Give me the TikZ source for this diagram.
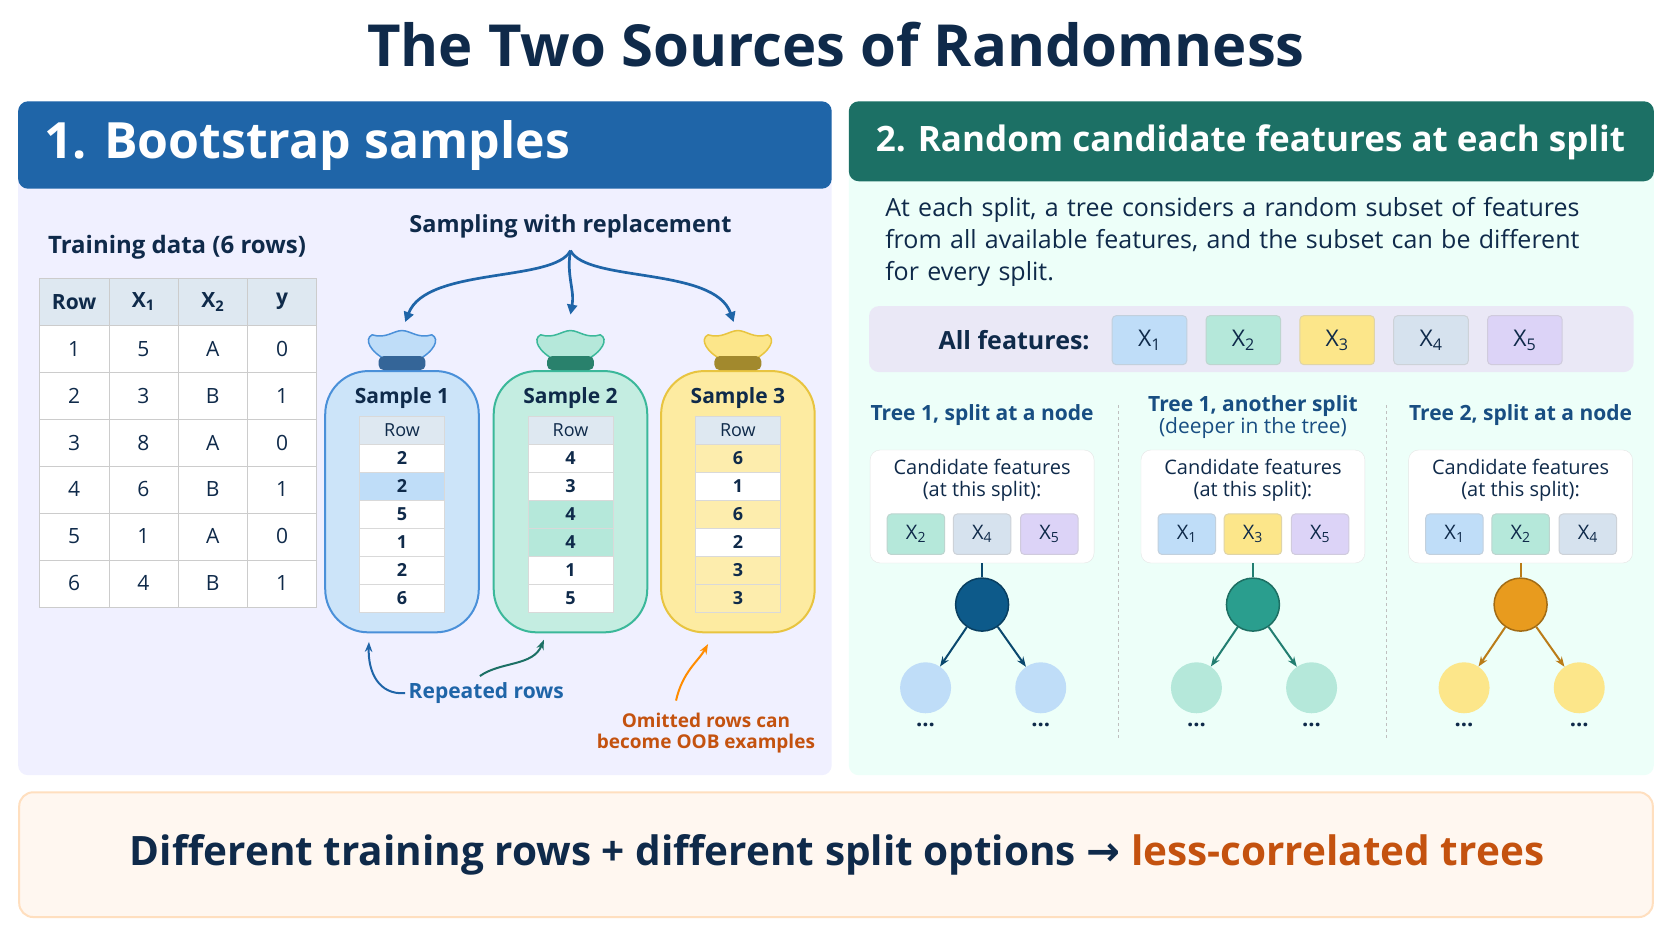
\documentclass[tikz,border=0pt]{standalone}
\usepackage{fontspec}
\setmainfont{Open Sans}
\newfontfamily\symfont{DejaVu Sans}
\usetikzlibrary{arrows.meta,positioning,shapes}
\definecolor{navy}{HTML}{0F2A4A}
\definecolor{hblue}{HTML}{1F65A8}
\definecolor{hteal}{HTML}{1C7065}
\definecolor{oob}{HTML}{C4520F}
\definecolor{fa}{HTML}{BFDDF8}\definecolor{da}{HTML}{4A90D9}
\definecolor{fb}{HTML}{B5E8DA}\definecolor{db}{HTML}{3BB89A}
\definecolor{fc}{HTML}{FCE68A}\definecolor{dc}{HTML}{E8C440}
\definecolor{fd}{HTML}{D6E2EE}\definecolor{dd}{HTML}{9FB4CB}
\definecolor{fe}{HTML}{DCD3F7}\definecolor{de}{HTML}{A896E8}
\newcommand{\fs}[1]{\fontsize{#1}{#1}\selectfont}
\tikzset{
  cell/.style={draw=gray!40, fill=white, minimum width=69.3pt, minimum height=46.9pt, inner sep=0pt, font=\fs{21}, text=navy},
  hcell/.style={cell, fill=fd!80, font=\fs{21}\bfseries},
  bcell/.style={draw=gray!30, fill=white, minimum width=85pt, minimum height=28pt, inner sep=0pt, font=\fs{18}\bfseries, text=navy},
  chip/.style={draw=#1!80!black!60, fill=#1, rounded corners=4pt, minimum width=57.5pt, minimum height=40.5pt, font=\fs{20}, text=navy, line width=1pt},
  feat/.style={chip=#1, minimum width=74.6pt, minimum height=49pt, font=\fs{23}},
  sub/.style={font=\fs{21}\bfseries, text=navy, align=center},
  tip/.style={-{Triangle[width=10pt,length=10pt]}, line width=2.7pt},
}
\begin{document}
\begin{tikzpicture}[x=1.0663pt,y=-1.0663pt]
\useasboundingbox (0,0) rectangle (1568,882.5);
\fill[white] (0,0) rectangle (1568,882.5);
\node (title) at (784,42) {\fs{58}\bfseries\color{navy}The Two Sources of Randomness};
% panels
\fill[blue!6, rounded corners=10pt] (17,95) rectangle (780,727);
\fill[hblue, rounded corners=10pt] (17,95) rectangle (780,177);
\node[anchor=west, text=white] (h1) at (38,136) {\fs{50}\bfseries 1. Bootstrap samples};
\fill[green!35!cyan!7, rounded corners=10pt] (796,95) rectangle (1551,727);
\fill[hteal, rounded corners=10pt] (796,95) rectangle (1551,170);
\node[anchor=west, text=white] (h2) at (818,133) {\fs{35}\bfseries 2. Random candidate features at each split};
% training table
\node[sub, font=\fs{24}\bfseries] (train) at (166,232) {Training data (6 rows)};
\foreach \h [count=\c] in {Row,X\textsubscript{1},X\textsubscript{2},y}
  \node[hcell] (t0\c) at (37+65*\c-32.5,283) {\h};
\foreach \r/\a/\b/\y [count=\i] in {1/5/A/0,2/3/B/1,3/8/A/0,4/6/B/1,5/1/A/0,6/4/B/1}
  \foreach \v [count=\c] in {\r,\a,\b,\y}
    \node[cell] (t\i\c) at (37+65*\c-32.5,283+44*\i) {\v};
% bags
\node[sub, font=\fs{23.5}\bfseries] (samp) at (535,212) {Sampling with replacement};
\foreach \n/\cx/\fl/\dr in {1/377/fa/da,2/535/fb/db,3/692/fc/dc}{
  \fill[\fl!80, draw=\dr, line width=2pt, rounded corners=43pt] (\cx-72,348) rectangle (\cx+72,593);
  \fill[\fl, draw=\dr, line width=1.5pt] (\cx-14,338) .. controls (\cx-30,330) and (\cx-36,318) .. (\cx-28,314)
    .. controls (\cx-15,318) and (\cx-8,310) .. (\cx,310) .. controls (\cx+8,310) and (\cx+15,318) .. (\cx+28,314)
    .. controls (\cx+36,318) and (\cx+30,330) .. (\cx+14,338) -- cycle;
  \fill[\dr!70!black, rounded corners=5pt] (\cx-22,334) rectangle (\cx+22,347);
  \node[sub] (s\n) at (\cx,373) {Sample \n};
  \node[bcell, fill=fd!80, font=\fs{18}] (b\n0) at (\cx,403) {Row};
}
\foreach \v [count=\i] in {2,2,5,1,2,6} \node[bcell] (b1\i) at (377,403+26.3*\i) {\v};
\foreach \v [count=\i] in {4,3,4,4,1,5} \node[bcell] (b2\i) at (535,403+26.3*\i) {\v};
\foreach \v [count=\i] in {6,1,6,2,3,3} \node[bcell] (b3\i) at (692,403+26.3*\i) {\v};
\node[bcell, fill=fa] at (b12) {2};
\node[bcell, fill=fb] at (b23) {4};
\node[bcell, fill=fb] at (b24) {4};
\foreach \i/\v in {1/6,3/6,5/3,6/3} \node[bcell, fill=fc!70] at (b3\i) {\v};
\coordinate (fork) at (535,235);
\draw[tip, hblue] (fork) to[out=-100, in=80] (535,295);
\draw[tip, hblue] (fork) .. controls (520,265) and (400,250) .. (380,302);
\draw[tip, hblue] (fork) .. controls (550,265) and (670,250) .. (688,302);
\node[font=\fs{21}\bfseries, text=hblue] (rep) at (456,650) {Repeated rows};
\draw[-{Stealth[length=10pt]}, line width=2pt, hblue] (rep.west) .. controls (355,652) and (345,630) .. (346,602);
\draw[-{Stealth[length=10pt]}, line width=2pt, hteal] (450,634) .. controls (470,620) and (500,625) .. (510,600);
\node[font=\fs{19}\bfseries, text=oob, align=center] (omit) at (662,687) {Omitted rows can\\[2pt]become OOB examples};
\draw[-{Stealth[length=10pt]}, line width=2pt, orange!90!yellow] (634,657) .. controls (640,630) and (655,620) .. (664,604);
% right panel
\node[anchor=north west, align=left, font=\fontsize{25}{32}\selectfont, text=navy, text width=770pt, inner sep=0pt] (para) at (830,185)
  {At each split, a tree considers a random subset of features\\from all available features, and the subset can be different\\for every split.};
\fill[cyan!15!blue!8, rounded corners=10pt] (815,287) rectangle (1532,349);
\node[font=\fs{25}\bfseries, text=navy] (all) at (951,319) {All features:};
\foreach \k/\c in {1/fa,2/fb,3/fc,4/fd,5/fe}
  \node[feat=\c] (f\k) at (990+88*\k,319) {X\textsubscript{\k}};
\foreach \cx/\tt/\ty/\ca/\cb/\cc/\la/\lb/\lc/\root/\leaf in
  {921/{Tree 1, split at a node}/389/fb/fd/fe/2/4/5/0D5A8A/fa,
   1175/{Tree 1, another split\\[1pt]\mdseries(deeper in the tree)}/391/fa/fc/fe/1/3/5/2A9E8E/fb,
   1426/{Tree 2, split at a node}/389/fa/fb/fd/1/2/4/E89B1E/fc}{
  \node[sub, text=hblue!60!navy] at (\cx,\ty) {\tt};
  \fill[white, draw=gray!20, rounded corners=10pt] (\cx-105,422) rectangle (\cx+105,528);
  \node[font=\fs{20}, text=navy, align=center] at (\cx,450) {Candidate features\\[2pt](at this split):};
  \node[chip=\ca] at (\cx-62,501) {X\textsubscript{\la}};
  \node[chip=\cb] at (\cx,501) {X\textsubscript{\lb}};
  \node[chip=\cc] at (\cx+63,501) {X\textsubscript{\lc}};
  \definecolor{rc}{HTML}{\root}
  \node[circle, fill=rc, draw=rc!70!black, line width=1.5pt, minimum size=53pt] (r\cx) at (\cx,567) {};
  \node[circle, fill=\leaf, minimum size=51pt] (l\cx) at (\cx-53,645) {};
  \node[circle, fill=\leaf, minimum size=51pt] (m\cx) at (\cx+55,645) {};
  \draw[rc!80!black, line width=2pt] (\cx,528) -- (r\cx.north);
  \draw[-{Stealth[length=10pt]}, line width=2pt, rc!80!black] (r\cx) -- (l\cx);
  \draw[-{Stealth[length=10pt]}, line width=2pt, rc!80!black] (r\cx) -- (m\cx);
  \node[font=\fs{22}\bfseries, text=navy] at (\cx-53,680) {...};
  \node[font=\fs{22}\bfseries, text=navy] at (\cx+55,680) {...};
}
\draw[dashed, gray!50, line width=1pt] (1049,380) -- (1049,695);
\draw[dashed, gray!50, line width=1pt] (1300,380) -- (1300,695);
% bottom
\fill[orange!6, draw=orange!25, line width=2pt, rounded corners=14pt] (18,743) rectangle (1550,860);
\node (concl) at (785,802) {\fs{40.5}\bfseries\color{navy}Different training rows + different split options {\symfont\bfseries →} \color{oob}less-correlated trees};
\end{tikzpicture}
\end{document}
